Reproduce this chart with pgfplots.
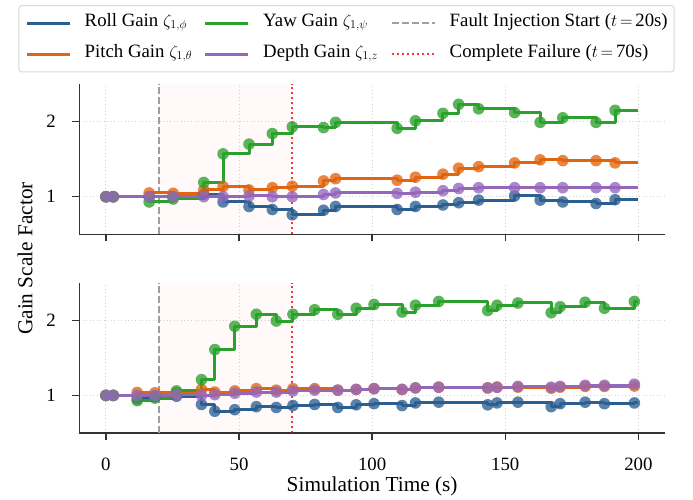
\documentclass[border=0pt]{standalone}
\usepackage{fontspec}
\setmainfont{Liberation Serif}
\usepackage{pgfplots}
\usepackage{pgfplotstable}
\pgfplotsset{compat=1.18}

\definecolor{rollc}{RGB}{44,95,145}
\definecolor{pitchc}{RGB}{225,100,15}
\definecolor{yawc}{RGB}{44,160,44}
\definecolor{depthc}{RGB}{148,103,189}

\pgfplotstableread{
t roll pitch yaw depth
0 1 1 1 1
2.75 1 1 1 1
16.25 1.00 1.05 0.93 1.00
25.25 1.00 1.045 0.97 1.00
36.75 1.03 1.09 1.19 1.00
44 0.93 1.135 1.57 1.00
53.75 0.87 1.09 1.70 1.01
62.5 0.83 1.12 1.84 1.00
70 0.76 1.14 1.93 1.00
81.75 0.82 1.21 1.92 1.03
86.25 0.87 1.24 1.99 1.05
109.4 0.83 1.22 1.91 1.045
116.25 0.87 1.26 2.01 1.06
126.6 0.89 1.30 2.11 1.08
132.5 0.92 1.38 2.23 1.11
140 0.955 1.40 2.17 1.12
153.5 1.01 1.45 2.12 1.12
163.1 0.955 1.49 1.99 1.12
171.6 0.93 1.48 2.05 1.12
184.1 0.91 1.48 1.99 1.12
191.25 0.96 1.45 2.15 1.12
200 0.96 1.45 2.15 1.12
}\topdata

\pgfplotstableread{
t roll pitch yaw depth
0 1 1 1 1
2.75 1 1 1 1
11.75 0.955 1.04 0.93 1.00
18.4 0.98 1.035 0.965 1.00
26.5 0.99 1.035 1.06 1.01
35.9 0.88 1.08 1.21 1.00
40.9 0.79 1.045 1.61 1.01
48.4 0.81 1.06 1.92 1.03
56.5 0.85 1.09 2.08 1.045
64 0.84 1.07 1.99 1.045
70.25 0.865 1.09 2.08 1.06
78.4 0.88 1.09 2.14 1.07
87.1 0.84 1.07 2.08 1.07
94 0.875 1.08 2.16 1.08
100.7 0.89 1.09 2.21 1.09
111.25 0.865 1.08 2.11 1.08
116.25 0.90 1.10 2.20 1.10
125 0.91 1.11 2.25 1.11
143.4 0.875 1.10 2.13 1.10
146.9 0.90 1.11 2.20 1.11
154.75 0.91 1.11 2.23 1.12
167.25 0.85 1.095 2.10 1.11
170.6 0.89 1.11 2.18 1.12
180 0.91 1.12 2.24 1.135
187.25 0.89 1.12 2.16 1.135
198.5 0.90 1.125 2.25 1.15
200 0.90 1.125 2.25 1.15
}\botdata

\newcommand{\fs}{\fontsize{18.8}{23}\selectfont}
\newcommand{\fst}{\fontsize{18.8}{22}\selectfont}
\newcommand{\fsl}{\fontsize{21.3}{25}\selectfont}

\pgfplotsset{
  panel/.style={
    scale only axis, width=585.7pt, height=150.3pt,
    xmin=-10, xmax=210, ymin=0.5, ymax=2.5,
    axis x line*=bottom, axis y line*=left,
    axis line style={draw=black!80, line width=1.5pt},
    xtick={0,50,100,150,200}, ytick={1,2},
    tick align=outside, major tick length=7pt,
    tick style={black!80, line width=1.5pt},
    grid=major,
    major grid style={gray!35, line width=1pt, dash pattern=on 1pt off 2.5pt},
    xticklabel style={font=\fst, anchor=base, inner sep=0pt, yshift=-30.6pt},
    yticklabel style={font=\fst, anchor=east, inner sep=0pt, xshift=-16.3pt},
    label style={font=\fsl},
    /pgf/number format/assume math mode=true,
  },
  gline/.style={forget plot, const plot, line width=3pt, line join=round},
  gmark/.style={forget plot, only marks, mark=*, mark size=5.8pt,
    mark options={draw opacity=0, fill opacity=0.78}},
}

\newcommand{\decor}{%
  \fill[red, opacity=0.025] (axis cs:20,0.5) rectangle (axis cs:70,2.5);
  \addplot[forget plot, gray!75, line width=2pt, dash pattern=on 7pt off 3pt] coordinates {(20,0.5) (20,2.5)};
  \addplot[forget plot, red, opacity=0.8, line width=2pt, dash pattern=on 2pt off 3pt] coordinates {(70,0.5) (70,2.5)};
}

\begin{document}
\begin{tikzpicture}
\useasboundingbox (0pt,0pt) rectangle (693pt,-500pt);

\begin{axis}[panel, at={(79.3pt,-84pt)}, anchor=north west,
  xticklabels={},
  legend columns=3, legend cell align=left,
  legend image code/.code={\draw[#1] (0pt,0pt) -- (43pt,0pt);},
  legend style={at={(axis description cs:0.4562,1.5256)}, anchor=north,
    draw=gray!30, line width=1pt, rounded corners=3pt, font=\fs,
    inner xsep=6.3pt, inner ysep=2.2pt, row sep=0pt,
    nodes={inner sep=0pt, text height=18.5pt, text depth=12.5pt},
    /tikz/every odd column/.append style={column sep=13.5pt},
    /tikz/every even column/.append style={column sep=4pt}},
]
\decor
\addplot[gline, rollc] table[x=t,y=roll] {\topdata};
\addplot[gmark, rollc, skip coords between index={21}{22}] table[x=t,y=roll] {\topdata};
\addplot[gline, pitchc] table[x=t,y=pitch] {\topdata};
\addplot[gmark, pitchc, skip coords between index={21}{22}] table[x=t,y=pitch] {\topdata};
\addplot[gline, yawc] table[x=t,y=yaw] {\topdata};
\addplot[gmark, yawc, skip coords between index={21}{22}] table[x=t,y=yaw] {\topdata};
\addplot[gline, depthc] table[x=t,y=depth] {\topdata};
\addplot[gmark, depthc, skip coords between index={21}{22}] table[x=t,y=depth] {\topdata};

\addlegendimage{line width=3pt, rollc}
\addlegendentry{\makebox[115pt][l]{Roll Gain $\zeta_{1,\phi}$}}
\addlegendimage{line width=3pt, yawc}
\addlegendentry{\makebox[124pt][l]{Yaw Gain $\zeta_{1,\psi}$}}
\addlegendimage{line width=2pt, gray!75, dash pattern=on 7pt off 3pt}
\addlegendentry{Fault Injection Start ($t\,{=}\,$20s)}
\addlegendimage{line width=3pt, pitchc}
\addlegendentry{\makebox[115pt][l]{Pitch Gain $\zeta_{1,\theta}$}}
\addlegendimage{line width=3pt, depthc}
\addlegendentry{\makebox[124pt][l]{Depth Gain $\zeta_{1,z}$}}
\addlegendimage{line width=2pt, red, opacity=0.8, dash pattern=on 2pt off 3pt}
\addlegendentry{Complete Failure ($t\,{=}\,$70s)}
\end{axis}

\begin{axis}[panel, at={(79.3pt,-282.7pt)}, anchor=north west,
  xlabel={Simulation Time (s)},
  xlabel style={at={(axis description cs:0.5,0)}, anchor=base, inner sep=0pt, yshift=-58.3pt},
]
\decor
\addplot[gline, rollc] table[x=t,y=roll] {\botdata};
\addplot[gmark, rollc, skip coords between index={26}{27}] table[x=t,y=roll] {\botdata};
\addplot[gline, pitchc] table[x=t,y=pitch] {\botdata};
\addplot[gmark, pitchc, skip coords between index={26}{27}] table[x=t,y=pitch] {\botdata};
\addplot[gline, yawc] table[x=t,y=yaw] {\botdata};
\addplot[gmark, yawc, skip coords between index={26}{27}] table[x=t,y=yaw] {\botdata};
\addplot[gline, depthc] table[x=t,y=depth] {\botdata};
\addplot[gmark, depthc, skip coords between index={26}{27}] table[x=t,y=depth] {\botdata};
\end{axis}

\node[rotate=90, font=\fsl] at (25pt,-258.5pt) {Gain Scale Factor};
\end{tikzpicture}
\end{document}
